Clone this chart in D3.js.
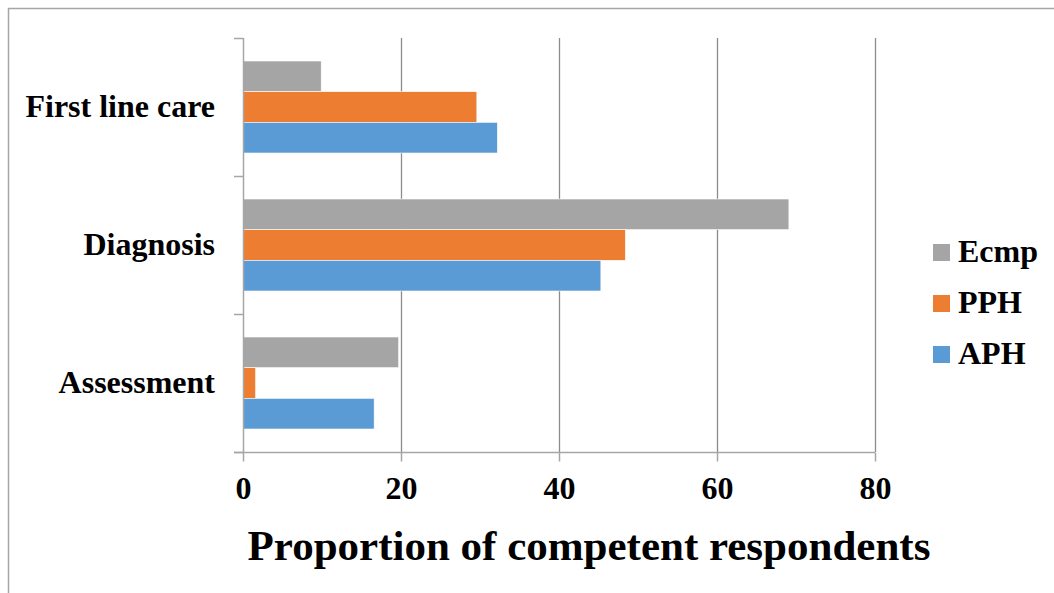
<!DOCTYPE html>
<html>
<head>
<meta charset="utf-8">
<script src="https://cdn.jsdelivr.net/npm/d3@7"></script>
<style>
  html, body { margin: 0; padding: 0; background: #fff; }
  svg { display: block; }
  text { font-family: "Liberation Serif", "Times New Roman", serif; font-weight: bold; fill: #000; }
</style>
</head>
<body>
<svg id="chart" width="1054" height="593"></svg>
<script>
// Competency categories, listed top to bottom
const categories = ["First line care", "Diagnosis", "Assessment"];
// Series, in drawing order within each category (top to bottom)
const seriesNames = ["Ecmp", "PPH", "APH"];
const ecmpValues = [9.9, 69.1, 19.7];
const pphValues  = [29.6, 48.4, 1.6];
const aphValues  = [32.2, 45.3, 16.6];
const xTicks = [0, 20, 40, 60, 80];
const xTitle = "Proportion of competent respondents";

const seriesValues = { Ecmp: ecmpValues, PPH: pphValues, APH: aphValues };
const colors = { Ecmp: "#A5A5A5", PPH: "#ED7D31", APH: "#5B9BD5" };

const svg = d3.select("#chart");
const plot = { left: 243, right: 875, top: 38, bottom: 452 };

// Chart frame (left and top edges visible)
svg.append("line").attr("x1", 8.5).attr("x2", 8.5).attr("y1", 8).attr("y2", 593)
  .attr("stroke", "#a6a6a6").attr("stroke-width", 1.5);
svg.append("line").attr("x1", 8).attr("x2", 1054).attr("y1", 8.5).attr("y2", 8.5)
  .attr("stroke", "#a6a6a6").attr("stroke-width", 1.5);

const x = d3.scaleLinear().domain([0, 80]).range([plot.left, plot.right]);
const y = d3.scaleBand().domain(categories).range([plot.top, plot.bottom]);
const inner = d3.scaleBand().domain(seriesNames)
  .range([0, y.bandwidth()]).paddingOuter(0.75).paddingInner(0);

// Vertical gridlines
svg.append("g").selectAll("line")
  .data(xTicks.filter(d => d > 0))
  .join("line")
  .attr("x1", d => x(d) + 0.5).attr("x2", d => x(d) + 0.5)
  .attr("y1", plot.top).attr("y2", plot.bottom)
  .attr("stroke", "#8c8c8c").attr("stroke-width", 1.3);

// Bars
const rows = categories.flatMap((c, i) =>
  seriesNames.map(s => ({ category: c, series: s, value: seriesValues[s][i] })));

svg.append("g").selectAll("rect")
  .data(rows)
  .join("rect")
  .attr("x", x(0))
  .attr("y", d => y(d.category) + inner(d.series))
  .attr("width", d => x(d.value) - x(0))
  .attr("height", inner.bandwidth())
  .attr("fill", d => colors[d.series])
  .attr("stroke", "#fff").attr("stroke-width", 0.6);

// Y axis with left-pointing ticks at band boundaries
const yAxisG = svg.append("g");
yAxisG.append("line")
  .attr("x1", plot.left + 0.5).attr("x2", plot.left + 0.5)
  .attr("y1", plot.top).attr("y2", plot.bottom)
  .attr("stroke", "#a6a6a6").attr("stroke-width", 1.5);
const bandEdges = categories.map(c => y(c)).concat([plot.bottom]);
yAxisG.selectAll("line.tick")
  .data(bandEdges)
  .join("line").attr("class", "tick")
  .attr("x1", plot.left - 9).attr("x2", plot.left)
  .attr("y1", d => d + 0.5).attr("y2", d => d + 0.5)
  .attr("stroke", "#a6a6a6").attr("stroke-width", 1.5);
yAxisG.selectAll("text")
  .data(categories)
  .join("text")
  .attr("x", 215)
  .attr("y", d => y(d) + y.bandwidth() / 2)
  .attr("dy", "0.32em")
  .attr("text-anchor", "end")
  .attr("font-size", 32)
  .text(d => d);

// X axis
const xAxis = d3.axisBottom(x).tickValues(xTicks).tickSize(9).tickPadding(15);
const xAxisG = svg.append("g")
  .attr("transform", `translate(0,${plot.bottom + 0.5})`)
  .call(xAxis);
xAxisG.select(".domain").remove();
xAxisG.insert("line", ":first-child")
  .attr("x1", plot.left - 9).attr("x2", plot.right)
  .attr("stroke", "#a6a6a6").attr("stroke-width", 1.5);
xAxisG.selectAll(".tick line").attr("stroke", "#a6a6a6").attr("stroke-width", 1.5);
xAxisG.selectAll(".tick text")
  .attr("font-size", 32)
  .attr("font-family", "Liberation Serif, Times New Roman, serif")
  .attr("font-weight", "bold")
  .attr("fill", "#000");

// X axis title
svg.append("text")
  .attr("x", 589).attr("y", 560)
  .attr("text-anchor", "middle")
  .attr("font-size", 43)
  .text(xTitle);

// Legend
const legend = svg.append("g").selectAll("g")
  .data(seriesNames)
  .join("g")
  .attr("transform", (d, i) => `translate(933,${244 + i * 51})`);
legend.append("rect")
  .attr("width", 17).attr("height", 17)
  .attr("fill", d => colors[d]);
legend.append("text")
  .attr("x", 25).attr("y", 18)
  .attr("font-size", 32)
  .text(d => d);
</script>
</body>
</html>
